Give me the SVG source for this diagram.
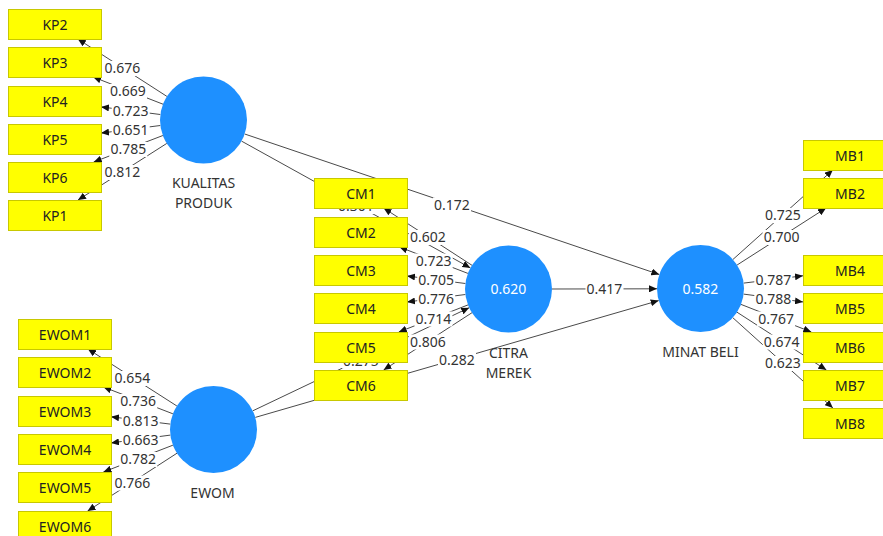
<svg xmlns="http://www.w3.org/2000/svg" width="883" height="536" viewBox="0 0 883 536">
<defs>
<marker id="arr" markerUnits="userSpaceOnUse" markerWidth="9" markerHeight="7" refX="8" refY="3.5" orient="auto">
<path d="M0,0 L8,3.5 L0,7 z" fill="#111"/>
</marker>
<style>
.ln{stroke:#4a4a4a;stroke-width:1;fill:none;marker-end:url(#arr)}
.lb rect{fill:#fff}
.lb text,.lt{font-family:"Noto Sans","Liberation Sans",sans-serif;font-size:14px;fill:#333;text-anchor:middle}
.box rect{fill:#ffff00;stroke:#c8c800;stroke-width:1}
.box text{font-family:"Noto Sans","Liberation Sans",sans-serif;font-size:14px;fill:#222;text-anchor:middle}
.lv circle{fill:#1e90ff}
.lv text.v{font-family:"Noto Sans","Liberation Sans",sans-serif;font-size:14px;fill:#fff;text-anchor:middle}
</style>
</defs>
<rect width="883" height="536" fill="#fff"/>
<g id="connectors">
<g id="lines">
<line class="ln" x1="166.9" y1="96.4" x2="77.8" y2="39"/>
<line class="ln" x1="163" y1="104.2" x2="93.1" y2="77"/>
<line class="ln" x1="160.3" y1="114.5" x2="101" y2="106.9"/>
<line class="ln" x1="160.3" y1="125.5" x2="101" y2="133.1"/>
<line class="ln" x1="162.9" y1="135.5" x2="93.7" y2="162"/>
<line class="ln" x1="166.8" y1="143.4" x2="78" y2="200"/>
<line class="ln" x1="176.9" y1="406" x2="87.9" y2="349"/>
<line class="ln" x1="172.9" y1="413.8" x2="103.4" y2="387"/>
<line class="ln" x1="170.3" y1="424.1" x2="111" y2="416.8"/>
<line class="ln" x1="170.4" y1="435.1" x2="111" y2="442.9"/>
<line class="ln" x1="172.9" y1="445.2" x2="103.4" y2="472"/>
<line class="ln" x1="177" y1="453.2" x2="87.6" y2="511"/>
<line class="ln" x1="472" y1="265.3" x2="383.6" y2="208"/>
<line class="ln" x1="467.9" y1="273.4" x2="399.4" y2="247"/>
<line class="ln" x1="465.4" y1="283.5" x2="407" y2="276"/>
<line class="ln" x1="465.4" y1="294.5" x2="407" y2="302"/>
<line class="ln" x1="468" y1="304.9" x2="398.8" y2="332"/>
<line class="ln" x1="472" y1="312.7" x2="383.6" y2="370"/>
<line class="ln" x1="732.9" y1="259.5" x2="832.8" y2="170"/>
<line class="ln" x1="737.1" y1="265" x2="826.1" y2="208"/>
<line class="ln" x1="743.7" y1="283.1" x2="803" y2="275.8"/>
<line class="ln" x1="743.6" y1="294.1" x2="803" y2="301.9"/>
<line class="ln" x1="741" y1="304.4" x2="811.3" y2="332"/>
<line class="ln" x1="737" y1="312.2" x2="826.4" y2="370"/>
<line class="ln" x1="732.8" y1="317.7" x2="832.9" y2="408"/>
<line class="ln" x1="241.5" y1="141.1" x2="470.4" y2="267.9"/>
<line class="ln" x1="252.8" y1="410.8" x2="469.2" y2="307.7"/>
<line class="ln" x1="244.7" y1="134" x2="659.3" y2="274.5"/>
<line class="ln" x1="552" y1="289" x2="657" y2="288.8"/>
<line class="ln" x1="255.3" y1="417.4" x2="658.7" y2="300.6"/>
</g>
<g id="labels" class="lb">
<rect x="103.4" y="61" width="38" height="15"/><text x="122.4" y="73">0.676</text>
<rect x="109" y="84" width="38" height="15"/><text x="128" y="96">0.669</text>
<rect x="111.7" y="104" width="38" height="15"/><text x="130.7" y="116">0.723</text>
<rect x="111.7" y="122.5" width="38" height="15"/><text x="130.7" y="134.5">0.651</text>
<rect x="109.3" y="142" width="38" height="15"/><text x="128.3" y="154">0.785</text>
<rect x="103.4" y="165" width="38" height="15"/><text x="122.4" y="177">0.812</text>
<rect x="113.4" y="371" width="38" height="15"/><text x="132.4" y="383">0.654</text>
<rect x="119.2" y="394" width="38" height="15"/><text x="138.2" y="406">0.736</text>
<rect x="121.7" y="414" width="38" height="15"/><text x="140.7" y="426">0.813</text>
<rect x="121.7" y="432.5" width="38" height="15"/><text x="140.7" y="444.5">0.663</text>
<rect x="119.2" y="452" width="38" height="15"/><text x="138.2" y="464">0.782</text>
<rect x="113.3" y="475.5" width="38" height="15"/><text x="132.3" y="487.5">0.766</text>
<rect x="408.8" y="230" width="38" height="15"/><text x="427.8" y="242">0.602</text>
<rect x="414.7" y="253.5" width="38" height="15"/><text x="433.7" y="265.5">0.723</text>
<rect x="417.2" y="273" width="38" height="15"/><text x="436.2" y="285">0.705</text>
<rect x="417.2" y="291.5" width="38" height="15"/><text x="436.2" y="303.5">0.776</text>
<rect x="414.4" y="311.5" width="38" height="15"/><text x="433.4" y="323.5">0.714</text>
<rect x="408.8" y="334.5" width="38" height="15"/><text x="427.8" y="346.5">0.806</text>
<rect x="763.9" y="208" width="38" height="15"/><text x="782.9" y="220">0.725</text>
<rect x="762.6" y="230" width="38" height="15"/><text x="781.6" y="242">0.700</text>
<rect x="754.3" y="273" width="38" height="15"/><text x="773.3" y="285">0.787</text>
<rect x="754.3" y="291.5" width="38" height="15"/><text x="773.3" y="303.5">0.788</text>
<rect x="757.1" y="311.5" width="38" height="15"/><text x="776.1" y="323.5">0.767</text>
<rect x="762.7" y="334.5" width="38" height="15"/><text x="781.7" y="346.5">0.674</text>
<rect x="763.9" y="356" width="38" height="15"/><text x="782.9" y="368">0.623</text>
<rect x="337" y="199" width="38" height="15"/><text x="356" y="211">0.301</text>
<rect x="342" y="353.5" width="38" height="15"/><text x="361" y="365.5">0.275</text>
<rect x="433" y="197.5" width="38" height="15"/><text x="452" y="209.5">0.172</text>
<rect x="585.5" y="282" width="38" height="15"/><text x="604.5" y="294">0.417</text>
<rect x="438" y="352.5" width="38" height="15"/><text x="457" y="364.5">0.282</text>
</g>
</g>
<g id="KP2" class="box"><rect x="8.5" y="9.5" width="93" height="30"/><text x="55" y="29.5">KP2</text></g>
<g id="KP3" class="box"><rect x="8.5" y="47.5" width="93" height="30"/><text x="55" y="67.5">KP3</text></g>
<g id="KP4" class="box"><rect x="8.5" y="86.5" width="93" height="30"/><text x="55" y="106.5">KP4</text></g>
<g id="KP5" class="box"><rect x="8.5" y="124.5" width="93" height="30"/><text x="55" y="144.5">KP5</text></g>
<g id="KP6" class="box"><rect x="8.5" y="162.5" width="93" height="30"/><text x="55" y="182.5">KP6</text></g>
<g id="KP1" class="box"><rect x="8.5" y="200.5" width="93" height="30"/><text x="55" y="220.5">KP1</text></g>
<g id="EWOM1" class="box"><rect x="18.5" y="319.5" width="93" height="30"/><text x="65" y="339.5">EWOM1</text></g>
<g id="EWOM2" class="box"><rect x="18.5" y="357.5" width="93" height="30"/><text x="65" y="377.5">EWOM2</text></g>
<g id="EWOM3" class="box"><rect x="18.5" y="396.5" width="93" height="30"/><text x="65" y="416.5">EWOM3</text></g>
<g id="EWOM4" class="box"><rect x="18.5" y="434.5" width="93" height="30"/><text x="65" y="454.5">EWOM4</text></g>
<g id="EWOM5" class="box"><rect x="18.5" y="472.5" width="93" height="30"/><text x="65" y="492.5">EWOM5</text></g>
<g id="EWOM6" class="box"><rect x="18.5" y="511.5" width="93" height="30"/><text x="65" y="531.5">EWOM6</text></g>
<g id="CM1" class="box"><rect x="314.5" y="178.5" width="93" height="30"/><text x="361" y="198.5">CM1</text></g>
<g id="CM2" class="box"><rect x="314.5" y="217.5" width="93" height="30"/><text x="361" y="237.5">CM2</text></g>
<g id="CM3" class="box"><rect x="314.5" y="255.5" width="93" height="30"/><text x="361" y="275.5">CM3</text></g>
<g id="CM4" class="box"><rect x="314.5" y="293.5" width="93" height="30"/><text x="361" y="313.5">CM4</text></g>
<g id="CM5" class="box"><rect x="314.5" y="332.5" width="93" height="30"/><text x="361" y="352.5">CM5</text></g>
<g id="CM6" class="box"><rect x="314.5" y="370.5" width="93" height="30"/><text x="361" y="390.5">CM6</text></g>
<g id="MB1" class="box"><rect x="803.5" y="140.5" width="93" height="30"/><text x="850" y="160.5">MB1</text></g>
<g id="MB2" class="box"><rect x="803.5" y="178.5" width="93" height="30"/><text x="850" y="198.5">MB2</text></g>
<g id="MB4" class="box"><rect x="803.5" y="255.5" width="93" height="30"/><text x="850" y="275.5">MB4</text></g>
<g id="MB5" class="box"><rect x="803.5" y="293.5" width="93" height="30"/><text x="850" y="313.5">MB5</text></g>
<g id="MB6" class="box"><rect x="803.5" y="332.5" width="93" height="30"/><text x="850" y="352.5">MB6</text></g>
<g id="MB7" class="box"><rect x="803.5" y="370.5" width="93" height="30"/><text x="850" y="390.5">MB7</text></g>
<g id="MB8" class="box"><rect x="803.5" y="408.5" width="93" height="30"/><text x="850" y="428.5">MB8</text></g>
<g id="KUALITAS_PRODUK" class="lv"><circle cx="203.5" cy="120" r="43.5"/><text class="lt" x="203.5" y="188">KUALITAS</text><text class="lt" x="203.5" y="208">PRODUK</text></g>
<g id="EWOM" class="lv"><circle cx="213.5" cy="429.5" r="43.5"/><text class="lt" x="212.5" y="498">EWOM</text></g>
<g id="CITRA_MEREK" class="lv"><circle cx="508.5" cy="289" r="43.5"/><text class="v" x="508.5" y="294">0.620</text><text class="lt" x="508.5" y="358">CITRA</text><text class="lt" x="508.5" y="378">MEREK</text></g>
<g id="MINAT_BELI" class="lv"><circle cx="700.5" cy="288.5" r="43.5"/><text class="v" x="700.5" y="293.5">0.582</text><text class="lt" x="700.5" y="357">MINAT BELI</text></g>
</svg>
